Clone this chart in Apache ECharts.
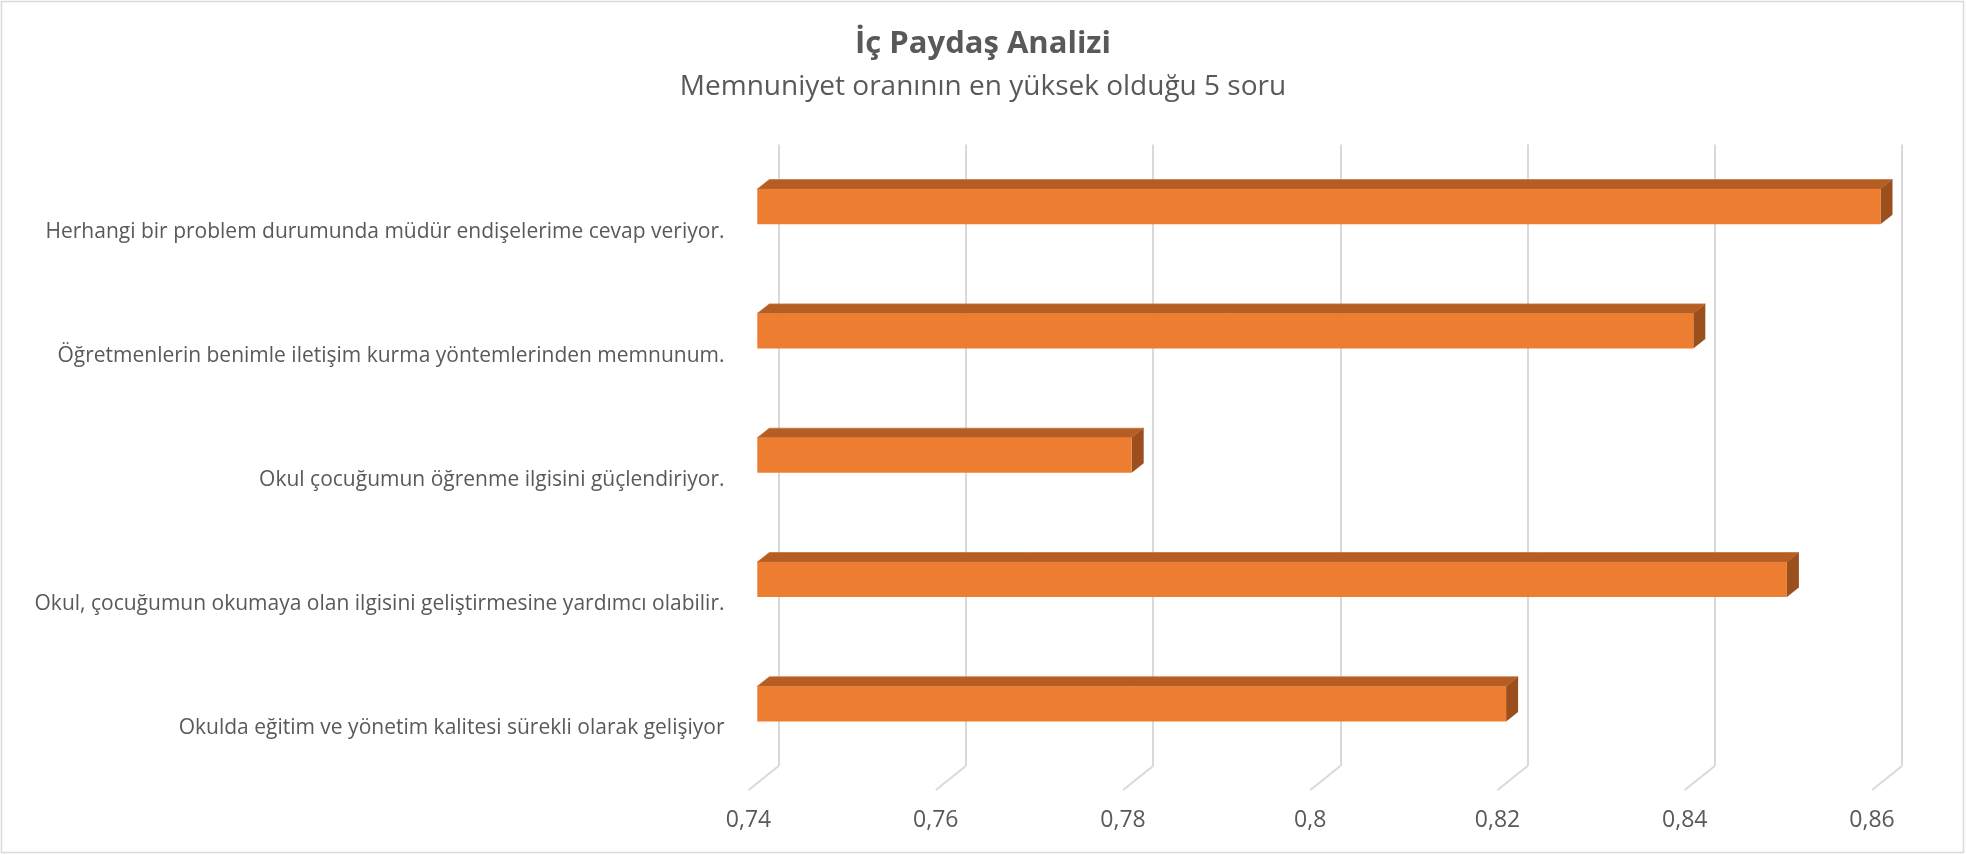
<!DOCTYPE html>
<html>
<head>
<meta charset="utf-8">
<script src="https://cdn.jsdelivr.net/npm/echarts@6/dist/echarts.min.js"></script>
<style>
html,body{margin:0;padding:0;background:#fff;}
#chart{width:1966px;height:855px;}
</style>
</head>
<body>
<div id="chart"></div>
<script>
const titleText = 'İç Paydaş Analizi';
const subtitleText = 'Memnuniyet oranının en yüksek olduğu 5 soru';
const categories = [
  'Herhangi bir problem durumunda müdür endişelerime cevap veriyor.',
  'Öğretmenlerin benimle iletişim kurma yöntemlerinden memnunum.',
  'Okul çocuğumun öğrenme ilgisini güçlendiriyor.',
  'Okul, çocuğumun okumaya olan ilgisini geliştirmesine yardımcı olabilir.',
  'Okulda eğitim ve yönetim kalitesi sürekli olarak gelişiyor'
];
const values = [0.86, 0.84, 0.78, 0.85, 0.82];
const tickValues = [0.74, 0.76, 0.78, 0.80, 0.82, 0.84, 0.86];
const axisMin = 0.74, axisMax = 0.86, axisStep = 0.02;

const textColor = '#595959';
const gridColor = '#D9D9D9';
const font = '"Open Sans", "DejaVu Sans", sans-serif';

const chart = echarts.init(document.getElementById('chart'));

const barData = values.map((v, i) => [v, i]);
const floorData = tickValues.map(v => [v, 0]);

const option = {
  backgroundColor: '#fff',
  animation: false,
  title: [
    {text: titleText, left: 'center', top: 25.5, padding: 0,
     textStyle: {fontFamily: font, fontSize: 31, fontWeight: 'bold', color: textColor, lineHeight: 38}},
    {text: subtitleText, left: 'center', top: 70, padding: 0,
     textStyle: {fontFamily: font, fontSize: 28, fontWeight: 'normal', color: textColor, lineHeight: 34}}
  ],
  graphic: [{
    type: 'rect', shape: {x: 1.5, y: 1.5, width: 1962, height: 851},
    style: {fill: 'none', stroke: gridColor, lineWidth: 1.5}, silent: true, z: -1
  }],
  grid: [
    {left: 778.6, right: 64, top: 144.5, bottom: 89},
    {left: 757.3, right: 85.5, top: 144.5, bottom: 89},
    {left: 748.5, right: 94, top: 170.5, bottom: 65}
  ],
  xAxis: [
    {gridIndex: 0, type: 'value', min: axisMin, max: axisMax, interval: axisStep,
     axisLine: {show: false}, axisTick: {show: false}, axisLabel: {show: false},
     splitLine: {show: true, lineStyle: {color: gridColor, width: 2}}},
    {gridIndex: 1, type: 'value', min: axisMin, max: axisMax, interval: axisStep, show: false},
    {gridIndex: 2, type: 'value', min: axisMin, max: axisMax, interval: axisStep,
     axisLine: {show: false}, axisTick: {show: false}, splitLine: {show: false},
     axisLabel: {show: true, margin: 19, fontFamily: font, fontSize: 23, color: textColor,
       formatter: v => String(+(+v).toFixed(2)).replace('.', ',')}}
  ],
  yAxis: [
    {gridIndex: 0, type: 'category', data: categories, inverse: true, show: false},
    {gridIndex: 1, type: 'category', data: categories, inverse: true, show: false},
    {gridIndex: 2, type: 'category', data: categories, inverse: true,
     axisLine: {show: false}, axisTick: {show: false}, splitLine: {show: false},
     axisLabel: {margin: 24, fontFamily: font, fontSize: 21, color: textColor}}
  ],
  series: [
    {
      type: 'custom', xAxisIndex: 0, yAxisIndex: 0, data: floorData, silent: true, z: 1,
      encode: {x: 0, y: 1},
      renderItem: function (params, api) {
        const cs = params.coordSys;
        const x = api.coord([api.value(0), 0])[0];
        const yb = cs.y + cs.height;
        return {type: 'line', shape: {x1: x, y1: yb, x2: x - 30, y2: yb + 24},
                style: {stroke: gridColor, lineWidth: 2}};
      }
    },
    {
      type: 'custom', xAxisIndex: 1, yAxisIndex: 1, data: barData, z: 5,
      encode: {x: 0, y: 1},
      renderItem: function (params, api) {
        const val = api.value(0), cat = api.value(1);
        const s = api.coord([axisMin, cat]);
        const e = api.coord([val, cat]);
        const band = api.size([0, 1])[1];
        const h = band * 0.282;
        const x0 = s[0], x1 = e[0];
        const y0 = s[1] - h / 2, y1 = s[1] + h / 2;
        const dx = 12, dy = 9.5;
        return {type: 'group', children: [
          {type: 'polygon', shape: {points: [[x0, y0], [x0 + dx, y0 - dy], [x1 + dx, y0 - dy], [x1, y0]]},
           style: {fill: '#B55D22', stroke: '#C8733A', lineWidth: 0.8}},
          {type: 'polygon', shape: {points: [[x1, y0], [x1 + dx, y0 - dy], [x1 + dx, y1 - dy], [x1, y1]]},
           style: {fill: '#9A4F1D'}},
          {type: 'rect', shape: {x: x0, y: y0, width: x1 - x0, height: h},
           style: {fill: '#ED7D31'}}
        ]};
      }
    }
  ]
};
chart.setOption(option);
</script>
</body>
</html>
